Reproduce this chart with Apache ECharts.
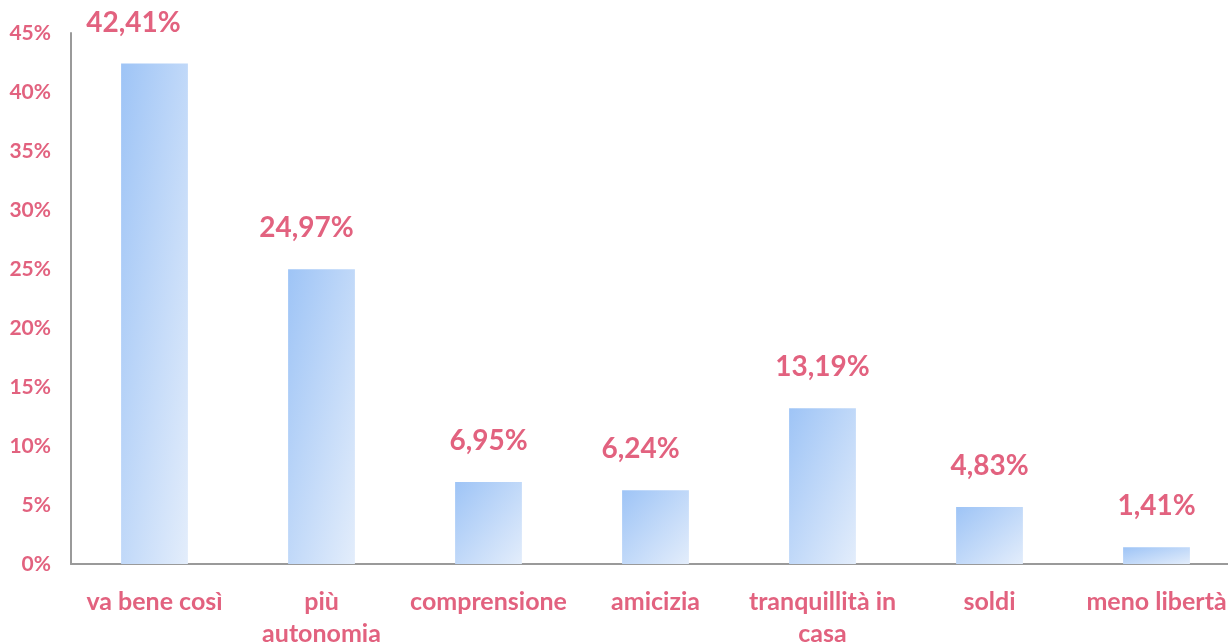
<!DOCTYPE html>
<html>
<head>
<meta charset="utf-8">
<script src="https://cdn.jsdelivr.net/npm/echarts@6/dist/echarts.min.js"></script>
<style>
  html, body { margin: 0; padding: 0; background: #fff; }
  #chart { width: 1228px; height: 644px; }
</style>
</head>
<body>
<div id="chart"></div>
<script>
const categories = ['va bene così', 'più\nautonomia', 'comprensione', 'amicizia', 'tranquillità in\ncasa', 'soldi', 'meno libertà']
const values = [42.41, 24.97, 6.95, 6.24, 13.19, 4.83, 1.41]
// labels that sit a bit left of their bar in the original
const labelShift = [-21, -15, 0, -15, 0, 0, 0]

const pink = '#e2627f'
const font = 'Lato, "Open Sans", sans-serif'

const plotHeight = 531
const barPx = 67

// diagonal gradient that runs corner to corner in the bar's own box
const barFill = (v) => {
    const h = Math.max(v / 45 * plotHeight, 1)
    const w = barPx
    const d = h * h + w * w
    return new echarts.graphic.LinearGradient(0, 0, 2 * h * h / d, 2 * w * w / d, [
        { offset: 0, color: '#9ec4f6' },
        { offset: 1, color: '#e3edfb' },
    ])
}

const chart = echarts.init(document.getElementById('chart'))

chart.setOption({
    animation: false,
    grid: { left: 71, right: -12, top: 33, bottom: 80, outerBoundsMode: 'none' },
    xAxis: {
        type: 'category',
        data: categories,
        axisLine: { lineStyle: { color: '#9a9a9a', width: 2 } },
        axisTick: { show: false },
        axisLabel: {
            color: pink,
            fontFamily: font,
            fontWeight: 'bold',
            fontSize: 25,
            lineHeight: 32,
            margin: 22,
            interval: 0,
        },
    },
    yAxis: {
        type: 'value',
        min: 0,
        max: 45,
        interval: 5,
        splitLine: { show: false },
        axisLine: { show: true, lineStyle: { color: '#9a9a9a', width: 2 } },
        axisTick: { show: false },
        axisLabel: {
            color: pink,
            fontFamily: font,
            fontWeight: 'bold',
            fontSize: 21,
            margin: 20,
            formatter: (v) => v + '%',
        },
    },
    series: [
        {
            type: 'bar',
            data: values.map((v, i) => ({
                value: v,
                itemStyle: { color: barFill(v) },
                label: { offset: [labelShift[i], 0] },
            })),
            barWidth: '40%',
            label: {
                show: true,
                position: 'top',
                distance: 27,
                color: pink,
                fontFamily: font,
                fontWeight: 'bold',
                fontSize: 28,
                formatter: (p) => p.value.toFixed(2).replace('.', ',') + '%',
            },
        },
    ],
})
</script>
</body>
</html>
